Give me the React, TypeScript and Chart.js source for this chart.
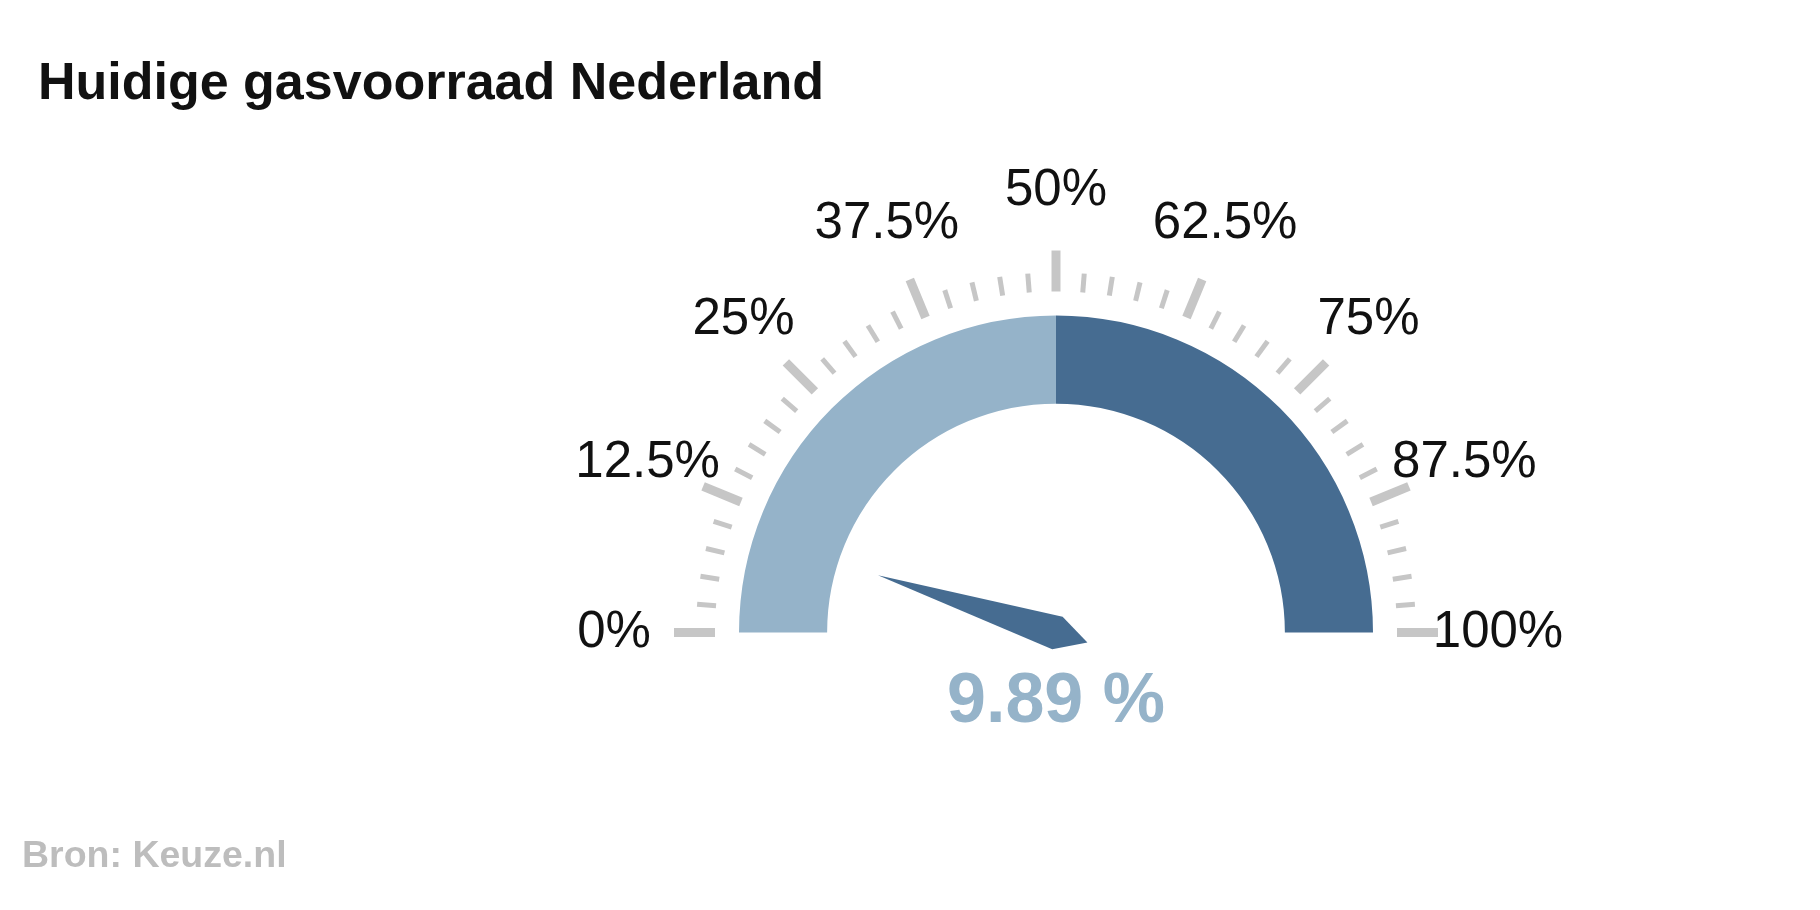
import React, { useEffect, useRef } from "react";
import { Chart, registerables } from "chart.js";

Chart.register(...registerables);

// gauge bands (0-50% light, 50-100% dark)
const bandNames = ["0% - 50%", "50% - 100%"];
const bandValues = [50, 50];
const bandColors = ["#95b3c9", "#466c91"];

// current value
const gaugeValue = 9.89;
const valueText = "9.89 %";

// scale
const majorTicks = [0, 12.5, 25, 37.5, 50, 62.5, 75, 87.5, 100];
const majorTickLabels = ["0%", "12.5%", "25%", "37.5%", "50%", "62.5%", "75%", "87.5%", "100%"];
const minorStep = 2.5;

const titleText = "Huidige gasvoorraad Nederland";
const sourceText = "Bron: Keuze.nl";

const FONT = "'Liberation Sans', Arial, Helvetica, sans-serif";

const angleFor = (v: number) => Math.PI + (v / 100) * Math.PI;

const gaugeDecor = {
  id: "gaugeDecor",
  afterDatasetsDraw(chart: any) {
    const ctx = chart.ctx as CanvasRenderingContext2D;
    const arc = chart.getDatasetMeta(0).data[0] as any;
    if (!arc) return;
    const cx = arc.x;
    const cy = arc.y;
    const R = arc.outerRadius;

    ctx.save();

    // ticks
    ctx.strokeStyle = "#c6c6c6";
    ctx.lineCap = "butt";
    const tickStart = R + 24;
    for (let v = 0; v <= 100 + 1e-6; v += minorStep) {
      const major = majorTicks.some((m) => Math.abs(m - v) < 1e-6);
      const a = angleFor(v);
      const r2 = major ? tickStart + 41 : tickStart + 19;
      ctx.lineWidth = major ? 9 : 5;
      ctx.beginPath();
      ctx.moveTo(cx + Math.cos(a) * tickStart, cy + Math.sin(a) * tickStart);
      ctx.lineTo(cx + Math.cos(a) * r2, cy + Math.sin(a) * r2);
      ctx.stroke();
    }

    // tick labels
    ctx.fillStyle = "#111111";
    ctx.font = `51px ${FONT}`;
    ctx.textAlign = "center";
    ctx.textBaseline = "middle";
    const labelR = R + 125;
    majorTicks.forEach((v, i) => {
      const a = angleFor(v);
      ctx.fillText(majorTickLabels[i], cx + Math.cos(a) * labelR, cy + Math.sin(a) * labelR);
    });

    // needle
    const a = angleFor(gaugeValue);
    const ux = Math.cos(a);
    const uy = Math.sin(a);
    const nx = -uy;
    const ny = ux;
    const tip = 187;
    const half = 17;
    const tail = 33;
    ctx.fillStyle = bandColors[1];
    ctx.beginPath();
    ctx.moveTo(cx + ux * tip, cy + uy * tip);
    ctx.lineTo(cx + nx * half - ux * 1.5, cy + ny * half - uy * 1.5);
    ctx.lineTo(cx - ux * tail, cy - uy * tail);
    ctx.lineTo(cx - nx * half - ux * 1.5, cy - ny * half - uy * 1.5);
    ctx.closePath();
    ctx.fill();

    // value
    ctx.fillStyle = bandColors[0];
    ctx.font = `bold 70px ${FONT}`;
    ctx.textAlign = "center";
    ctx.textBaseline = "alphabetic";
    ctx.fillText(valueText, cx, cy + 89);

    // title + source
    ctx.textAlign = "left";
    ctx.fillStyle = "#111111";
    ctx.font = `bold 52px ${FONT}`;
    ctx.fillText(titleText, 38, 99);
    ctx.fillStyle = "#bdbdbd";
    ctx.font = `bold 37.5px ${FONT}`;
    ctx.fillText(sourceText, 22, 867);

    ctx.restore();
  },
};

const GasGauge: React.FC = () => {
  const chartRef = useRef<HTMLCanvasElement | null>(null);

  useEffect(() => {
    if (!chartRef.current) return;
    const ctx = chartRef.current.getContext("2d");
    if (!ctx) return;

    const chart = new Chart(ctx, {
      type: "doughnut",
      data: {
        labels: bandNames,
        datasets: [
          {
            data: bandValues,
            backgroundColor: bandColors,
            borderWidth: 0,
            hoverOffset: 0,
          },
        ],
      },
      options: {
        animation: false,
        responsive: true,
        maintainAspectRatio: false,
        rotation: -90,
        circumference: 180,
        radius: 317,
        cutout: "72.2%",
        layout: {
          padding: { left: 400, right: 108, top: 274, bottom: 236 },
        },
        events: [],
        plugins: {
          legend: { display: false },
          tooltip: { enabled: false },
        },
      },
      plugins: [gaugeDecor],
    });

    return () => {
      chart.destroy();
    };
  }, []);

  return (
    <div style={{ position: "fixed", left: 0, top: 0, width: 1820, height: 910, background: "#ffffff" }}>
      <canvas ref={chartRef} />
    </div>
  );
};

export default function App() {
  return <GasGauge />;
}
